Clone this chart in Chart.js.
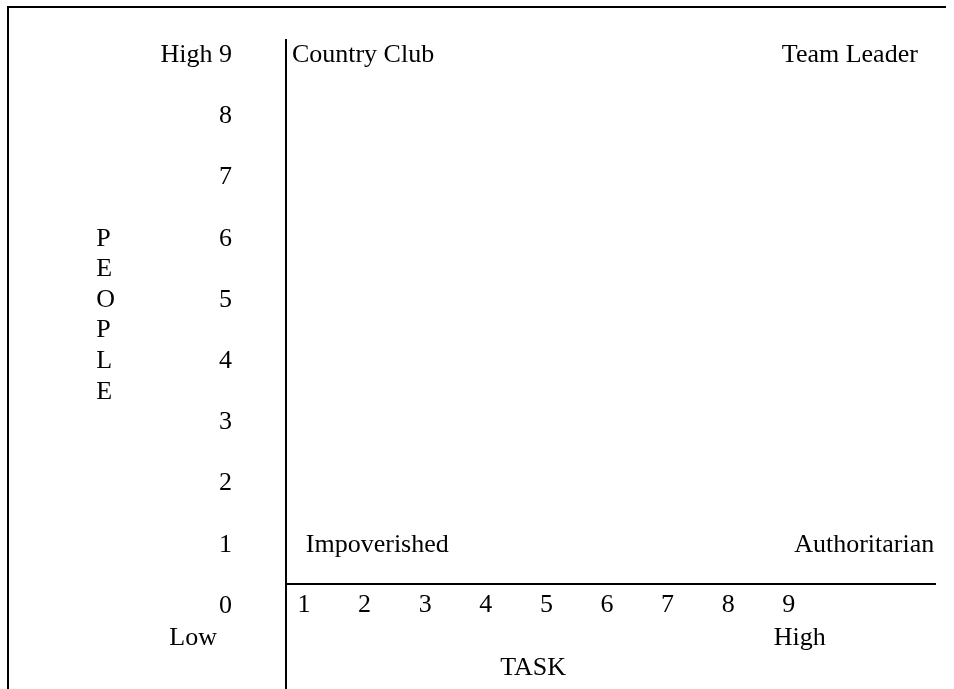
<!DOCTYPE html>
<html>
<head>
<meta charset="utf-8">
<script src="https://cdn.jsdelivr.net/npm/chart.js@4.4.1/dist/chart.umd.min.js"></script>
<style>
  html, body { margin: 0; padding: 0; background: #fff; }
  #wrap { position: relative; width: 954px; height: 689px; overflow: hidden; }
  #frame {
    position: absolute; left: 7px; top: 6px; width: 937px; height: 700px;
    border-top: 2px solid #000; border-left: 2px solid #000; pointer-events: none;
  }
</style>
</head>
<body>
<div id="wrap">
  <canvas id="grid"></canvas>
  <div id="frame"></div>
</div>
<script>
// tick values on both axes
const taskTicks = [1, 2, 3, 4, 5, 6, 7, 8, 9];
const peopleTicks = [0, 1, 2, 3, 4, 5, 6, 7, 8, 9];

// the four corner styles of the grid (task, people)
const styleNames = ["Country Club", "Team Leader", "Impoverished", "Authoritarian"];
const styleTask = [0.8, 11.13, 1.03, 11.4];
const stylePeople = [9, 9, 1, 1];

// axis end words and titles
const endWords = ["Low", "High"];
const endTask = [-0.83, 9.18];
const endPeople = [-0.52, -0.52];
const xTitle = "TASK";
const yTitle = "PEOPLE";

const FONT = "'Liberation Serif', 'Times New Roman', serif";

const gridLabels = {
  id: "gridLabels",
  afterDraw(chart) {
    const { ctx, scales: { x, y } } = chart;
    ctx.save();
    ctx.fillStyle = "#000";
    ctx.font = "26px " + FONT;
    ctx.textBaseline = "middle";

    styleNames.forEach((name, i) => {
      ctx.textAlign = styleTask[i] > 6 ? "right" : "left";
      ctx.fillText(name, x.getPixelForValue(styleTask[i]), y.getPixelForValue(stylePeople[i]));
    });

    ctx.textAlign = "center";
    endWords.forEach((w, i) => {
      ctx.fillText(w, x.getPixelForValue(endTask[i]), y.getPixelForValue(endPeople[i]));
    });
    ctx.fillText(xTitle, x.getPixelForValue(4.78), y.getPixelForValue(-1.01));

    // vertical letters, half a step apart
    ctx.textAlign = "left";
    yTitle.split("").forEach((ch, i) => {
      ctx.fillText(ch, x.getPixelForValue(-2.43), y.getPixelForValue(6 - i * 0.5));
    });
    ctx.restore();
  }
};

new Chart(document.getElementById("grid"), {
  type: "scatter",
  data: { datasets: [{ data: [], pointRadius: 0 }] },
  options: {
    responsive: true,
    maintainAspectRatio: false,
    animation: false,
    events: [],
    layout: { padding: { top: 40, right: 19, bottom: 0, left: 0 } },
    plugins: { legend: { display: false }, tooltip: { enabled: false } },
    scales: {
      x: {
        type: "linear",
        min: 0.703,
        max: 11.413,
        position: { y: 0.36 },
        afterBuildTicks: (axis) => { axis.ticks = taskTicks.map(v => ({ value: v })); },
        afterFit: (axis) => { axis.paddingLeft = 0; axis.paddingRight = 0; },
        grid: { display: false, drawTicks: false },
        border: { display: true, color: "#000", width: 2 },
        ticks: {
          color: "#000",
          font: { family: FONT, size: 26 },
          padding: 6,
          autoSkip: false,
          maxRotation: 0,
          callback: (v) => String(v)
        }
      },
      y: {
        type: "linear",
        min: -1.356,
        max: 9.248,
        afterFit: (axis) => {
          axis.width = 286;
          // labels sit well inside the range, no overhang needed
          axis.paddingTop = 0;
          axis.paddingBottom = 0;
        },
        afterBuildTicks: (axis) => { axis.ticks = peopleTicks.map(v => ({ value: v })); },
        grid: { display: false, drawTicks: false },
        border: { display: true, color: "#000", width: 2 },
        ticks: {
          color: "#000",
          font: { family: FONT, size: 26 },
          padding: 54,
          autoSkip: false,
          callback: (v) => (v === 9 ? "High 9" : String(v))
        }
      }
    }
  },
  plugins: [gridLabels]
});
</script>
</body>
</html>
